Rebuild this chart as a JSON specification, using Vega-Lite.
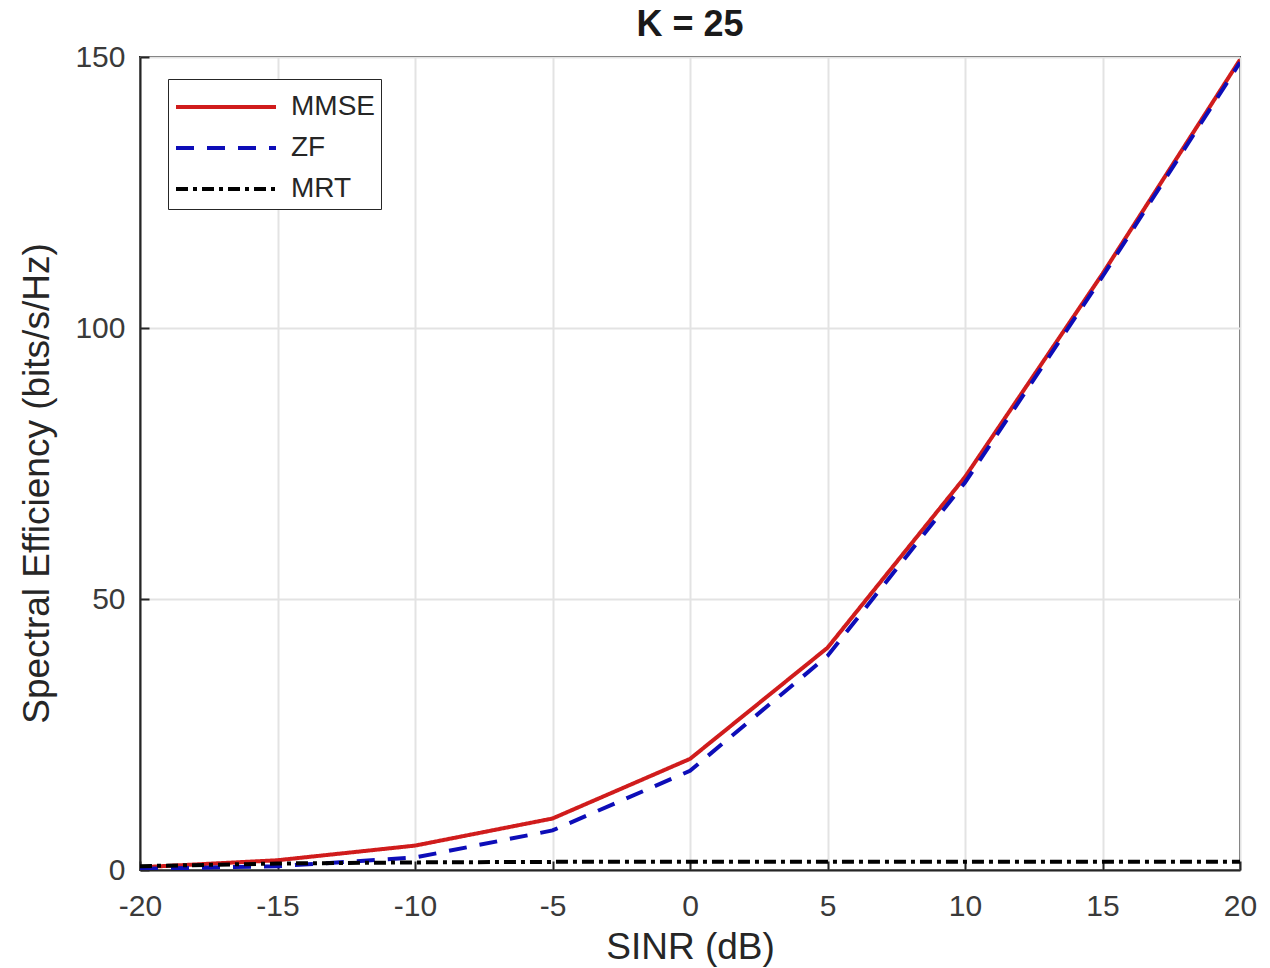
{
  "$schema": "https://vega.github.io/schema/vega-lite/v6.json",
  "autosize": {"type": "none"},
  "width": 1100,
  "height": 813,
  "padding": {"left": 140, "top": 57, "right": 30, "bottom": 98},
  "background": "white",
  "config": {
    "font": "Liberation Sans",
    "view": {"stroke": "#262626", "strokeWidth": 2},
    "axis": {
      "domainColor": "#262626",
      "domainWidth": 2,
      "gridColor": "#e3e3e3",
      "gridWidth": 2,
      "gridOpacity": 1,
      "tickColor": "#262626",
      "tickWidth": 2,
      "tickSize": -9,
      "labelFlush": false,
      "labelFont": "Liberation Sans",
      "labelFontSize": 30,
      "labelColor": "#3a3a3a",
      "titleFont": "Liberation Sans",
      "titleFontSize": 37,
      "titleFontWeight": "normal",
      "titleColor": "#262626"
    }
  },
  "title": {
    "text": "K = 25",
    "fontSize": 36,
    "fontWeight": "bold",
    "font": "Liberation Sans",
    "color": "#1a1a1a",
    "anchor": "middle",
    "offset": -2
  },
  "data": {
    "values": [
      {"sinr": -20, "se": 0.5, "scheme": "MMSE"},
      {"sinr": -15, "se": 1.8, "scheme": "MMSE"},
      {"sinr": -10, "se": 4.5, "scheme": "MMSE"},
      {"sinr": -5, "se": 9.5, "scheme": "MMSE"},
      {"sinr": 0, "se": 20.5, "scheme": "MMSE"},
      {"sinr": 5, "se": 41, "scheme": "MMSE"},
      {"sinr": 10, "se": 72.5, "scheme": "MMSE"},
      {"sinr": 15, "se": 110, "scheme": "MMSE"},
      {"sinr": 20, "se": 149.5, "scheme": "MMSE"},
      {"sinr": -20, "se": 0.2, "scheme": "ZF"},
      {"sinr": -15, "se": 0.7, "scheme": "ZF"},
      {"sinr": -10, "se": 2.3, "scheme": "ZF"},
      {"sinr": -5, "se": 7.3, "scheme": "ZF"},
      {"sinr": 0, "se": 18.3, "scheme": "ZF"},
      {"sinr": 5, "se": 39.5, "scheme": "ZF"},
      {"sinr": 10, "se": 71.5, "scheme": "ZF"},
      {"sinr": 15, "se": 109.5, "scheme": "ZF"},
      {"sinr": 20, "se": 149, "scheme": "ZF"},
      {"sinr": -20, "se": 0.7, "scheme": "MRT"},
      {"sinr": -15, "se": 1.2, "scheme": "MRT"},
      {"sinr": -10, "se": 1.4, "scheme": "MRT"},
      {"sinr": -5, "se": 1.5, "scheme": "MRT"},
      {"sinr": 0, "se": 1.5, "scheme": "MRT"},
      {"sinr": 5, "se": 1.5, "scheme": "MRT"},
      {"sinr": 10, "se": 1.5, "scheme": "MRT"},
      {"sinr": 15, "se": 1.5, "scheme": "MRT"},
      {"sinr": 20, "se": 1.5, "scheme": "MRT"}
    ]
  },
  "mark": {"type": "line", "strokeWidth": 4, "clip": true},
  "encoding": {
    "x": {
      "field": "sinr",
      "type": "quantitative",
      "scale": {"domain": [-20, 20], "nice": false, "zero": false},
      "axis": {
        "values": [-20, -15, -10, -5, 0, 5, 10, 15, 20],
        "labelExpr": "datum.value < 0 ? '-' + abs(datum.value) : '' + datum.value",
        "title": "SINR (dB)",
        "labelPadding": 30,
        "titlePadding": 8
      }
    },
    "y": {
      "field": "se",
      "type": "quantitative",
      "scale": {"domain": [0, 150], "nice": false},
      "axis": {"values": [0, 50, 100, 150], "title": "Spectral Efficiency (bits/s/Hz)", "labelPadding": 24, "titlePadding": 18, "titleY": 426}
    },
    "color": {
      "field": "scheme",
      "type": "nominal",
      "scale": {"domain": ["MMSE", "ZF", "MRT"], "range": ["#d01c1c", "#0d0db8", "#000000"]},
      "legend": {
        "title": null,
        "orient": "none",
        "legendX": 28,
        "legendY": 22,
        "symbolType": "M-1,0H4",
        "symbolSize": 1600,
        "symbolStrokeWidth": 4,
        "labelFontSize": 28,
        "labelFont": "Liberation Sans",
        "labelColor": "#262626",
        "labelOffset": 73,
        "rowPadding": 5,
        "padding": 6,
        "strokeColor": "#262626",
        "fillColor": "white"
      }
    },
    "strokeDash": {
      "field": "scheme",
      "type": "nominal",
      "scale": {"domain": ["MMSE", "ZF", "MRT"], "range": [[1, 0], [18, 13], [12, 5, 4, 5]]},
      "legend": null
    }
  }
}
